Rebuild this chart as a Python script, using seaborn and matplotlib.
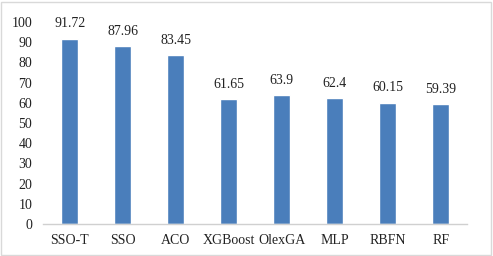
import matplotlib
matplotlib.use("Agg")
import matplotlib.pyplot as plt
import seaborn as sns
import pandas as pd

# data
models = ['SSO-T', 'SSO', 'ACO', 'XGBoost', 'OlexGA', 'MLP', 'RBFN', 'RF']
scores = [91.72, 87.96, 83.45, 61.65, 63.9, 62.4, 60.15, 59.39]
score_labels = ['91.72', '87.96', '83.45', '61.65', '63.9', '62.4', '60.15', '59.39']
yticks = [0, 10, 20, 30, 40, 50, 60, 70, 80, 90, 100]

df = pd.DataFrame({'model': models, 'score': scores})

sns.set_style('white')
plt.rcParams['font.family'] = ['Liberation Serif', 'DejaVu Serif']

fig = plt.figure(figsize=(4.93, 2.56), dpi=100)
ax = fig.add_axes([0.088, 0.125, 0.86, 0.789])

sns.barplot(data=df, x='model', y='score', color='#4a7ebb', saturation=1,
            width=0.32, ax=ax)

for i, (v, lab) in enumerate(zip(scores, score_labels)):
    ax.annotate(lab, (i, v), xytext=(0, 6), textcoords='offset points',
                ha='center', va='bottom', fontsize=10, color='#222222')

ax.set_ylim(0, 100)
ax.set_xlim(-0.5, len(models) - 0.5)
ax.set_yticks(yticks)
ax.set_xlabel('')
ax.set_ylabel('')
ax.tick_params(axis='both', length=0, labelsize=10, colors='#222222')
ax.tick_params(axis='y', pad=8)
ax.tick_params(axis='x', pad=7)
for s in ['top', 'right', 'left']:
    ax.spines[s].set_visible(False)
ax.spines['bottom'].set_color('#d0d0d0')
ax.spines['bottom'].set_linewidth(1)

# thin frame around the chart area
fig.patches.append(plt.Rectangle((0.002, 0.004), 0.994, 0.99, transform=fig.transFigure,
                                 fill=False, edgecolor='#d9d9d9', linewidth=1))

fig.savefig('out.png', dpi=100)
